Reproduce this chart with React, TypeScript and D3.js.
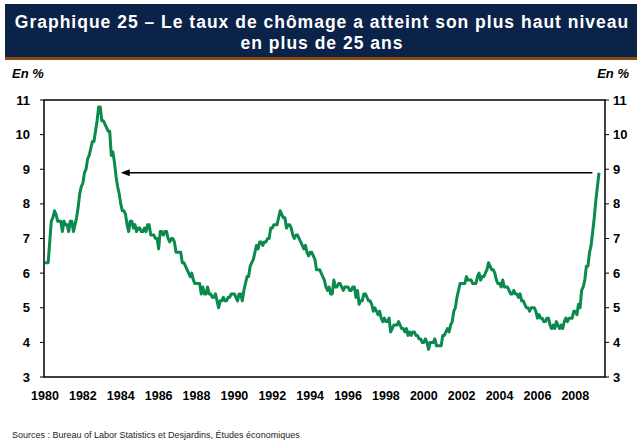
import React from "react";
import * as d3 from "d3";

const years = [1980,1981,1982,1983,1984,1985,1986,1987,1988,1989,1990,1991,1992,1993,1994,1995,1996,1997,1998,1999,2000,2001,2002,2003,2004,2005,2006,2007,2008,2009];
const rate1980s = [
  6.3,6.3,6.3,6.9,7.5,7.6,7.8,7.7,7.5,7.5,7.5,7.2,
  7.5,7.4,7.4,7.2,7.5,7.5,7.2,7.4,7.6,7.9,8.3,8.5,
  8.6,8.9,9.0,9.3,9.4,9.6,9.8,9.8,10.1,10.4,10.8,10.8,
  10.4,10.4,10.3,10.2,10.1,10.1,9.4,9.5,9.2,8.8,8.5,8.3,
  8.0,7.8,7.8,7.7,7.4,7.2,7.5,7.5,7.3,7.4,7.2,7.3,
  7.3,7.2,7.2,7.3,7.2,7.4,7.4,7.1,7.1,7.1,7.0,7.0,
  6.7,7.2,7.2,7.1,7.2,7.2,7.0,6.9,7.0,7.0,6.9,6.6,
  6.6,6.6,6.6,6.3,6.3,6.2,6.1,6.0,5.9,6.0,5.8,5.7,
  5.7,5.7,5.7,5.4,5.6,5.4,5.4,5.6,5.4,5.4,5.3,5.3,
  5.4,5.2,5.0,5.2,5.2,5.3,5.2,5.2,5.3,5.3,5.4,5.4
];
const rate1990s = [
  5.4,5.3,5.2,5.4,5.4,5.2,5.5,5.7,5.9,5.9,6.2,6.3,
  6.4,6.6,6.8,6.7,6.9,6.9,6.8,6.9,6.9,7.0,7.0,7.3,
  7.3,7.4,7.4,7.4,7.6,7.8,7.7,7.6,7.6,7.3,7.4,7.4,
  7.3,7.1,7.0,7.1,7.1,7.0,6.9,6.8,6.7,6.8,6.6,6.5,
  6.6,6.6,6.5,6.4,6.1,6.1,6.1,6.0,5.9,5.8,5.6,5.5,
  5.6,5.4,5.4,5.8,5.6,5.6,5.7,5.7,5.6,5.5,5.6,5.6,
  5.6,5.5,5.5,5.6,5.6,5.3,5.5,5.1,5.2,5.2,5.4,5.4,
  5.3,5.2,5.2,5.1,4.9,5.0,4.9,4.8,4.9,4.7,4.6,4.7,
  4.6,4.6,4.7,4.3,4.4,4.5,4.5,4.5,4.6,4.5,4.4,4.4,
  4.3,4.4,4.2,4.3,4.2,4.3,4.3,4.2,4.2,4.1,4.1,4.0
];
const rate2000s = [
  4.0,4.1,4.0,3.8,4.0,4.0,4.0,4.1,3.9,3.9,3.9,3.9,
  4.2,4.2,4.3,4.4,4.3,4.5,4.6,4.9,5.0,5.3,5.5,5.7,
  5.7,5.7,5.7,5.9,5.8,5.8,5.8,5.7,5.7,5.7,5.9,6.0,
  5.8,5.9,5.9,6.0,6.1,6.3,6.2,6.1,6.1,6.0,5.8,5.7,
  5.7,5.6,5.8,5.6,5.6,5.6,5.5,5.4,5.4,5.5,5.4,5.4,
  5.3,5.4,5.2,5.2,5.1,5.0,5.0,4.9,5.0,5.0,5.0,4.9,
  4.7,4.8,4.7,4.7,4.6,4.6,4.7,4.7,4.5,4.4,4.5,4.4,
  4.6,4.5,4.4,4.5,4.4,4.6,4.7,4.6,4.7,4.7,4.7,4.9,
  4.9,4.8,5.1,5.0,5.5,5.6,5.8,6.2,6.2,6.6,6.8,7.2,
  7.6,8.1,8.5,8.9
];
const unemployment = [...rate1980s, ...rate1990s, ...rate2000s];
const yTicks = [3,4,5,6,7,8,9,10,11];
const xLabelYears = [1980,1982,1984,1986,1988,1990,1992,1994,1996,1998,2000,2002,2004,2006,2008];
const arrowLevel = 8.9;
const arrowFrom = 2008.9;
const arrowTo = 1984.0;

const W = 642, H = 441;
const left = 44, right = 605, top = 100, bottom = 377;

export default function App() {
  const n = unemployment.length;
  const x = d3.scaleLinear().domain([0, n - 1]).range([left + 1, 599]);
  const xYear = (yr: number) => x((yr - 1980) * 12);
  const y = d3.scaleLinear().domain([3, 11]).range([bottom, top]);
  const line = d3.line<number>().x((_, i) => x(i)).y((d) => y(d));
  const font = "Arial, 'Liberation Sans', Helvetica, sans-serif";
  const ay = y(arrowLevel);
  const ax1 = xYear(arrowTo);
  const ax2 = xYear(arrowFrom);
  return (
    <svg width={W} height={H} style={{ position: "absolute", left: 0, top: 0, background: "#fff" }} fontFamily={font}>
      <rect x={5} y={4} width={632} height={53} fill="#0b2249" />
      <rect x={5} y={57} width={632} height={3} fill="#8a4a0c" />
      <text x={322} y={28} textAnchor="middle" fill="#fff" fontWeight="bold" fontSize={17.5} letterSpacing={1}>
        Graphique 25 – Le taux de chômage a atteint son plus haut niveau
      </text>
      <text x={322} y={49} textAnchor="middle" fill="#fff" fontWeight="bold" fontSize={17.5} letterSpacing={1}>
        en plus de 25 ans
      </text>
      <text x={12} y={78} fontWeight="bold" fontStyle="italic" fontSize={13}>En %</text>
      <text x={629} y={78} textAnchor="end" fontWeight="bold" fontStyle="italic" fontSize={13}>En %</text>

      {yTicks.map((t) => (
        <g key={t}>
          <line x1={left - 4} x2={left} y1={y(t)} y2={y(t)} stroke="#000" strokeWidth={1} />
          <line x1={right} x2={right + 4} y1={y(t)} y2={y(t)} stroke="#000" strokeWidth={1} />
          <text x={30} y={y(t) + 4.5} textAnchor="end" fontWeight="bold" fontSize={13}>{t}</text>
          <text x={613} y={y(t) + 4.5} textAnchor="start" fontWeight="bold" fontSize={13}>{t}</text>
        </g>
      ))}
      <rect x={left} y={top} width={right - left} height={bottom - top} fill="none" stroke="#000" strokeWidth={1.5} />

      {xLabelYears.map((yr) => (
        <text key={yr} x={xYear(yr)} y={400} textAnchor="middle" fontWeight="bold" fontSize={12.5}>{yr}</text>
      ))}

      <path d={line(unemployment) || ""} fill="none" stroke="#0a8a4c" strokeWidth={3} strokeLinejoin="round" />

      <line x1={ax1 + 6} x2={ax2} y1={ay} y2={ay} stroke="#000" strokeWidth={1.5} />
      <path d={`M${ax1},${ay} L${ax1 + 9},${ay - 3.5} L${ax1 + 9},${ay + 3.5} Z`} fill="#000" />

      <text x={12} y={438} fontSize={9} fill="#222">Sources : Bureau of Labor Statistics et Desjardins, Études économiques</text>
    </svg>
  );
}
